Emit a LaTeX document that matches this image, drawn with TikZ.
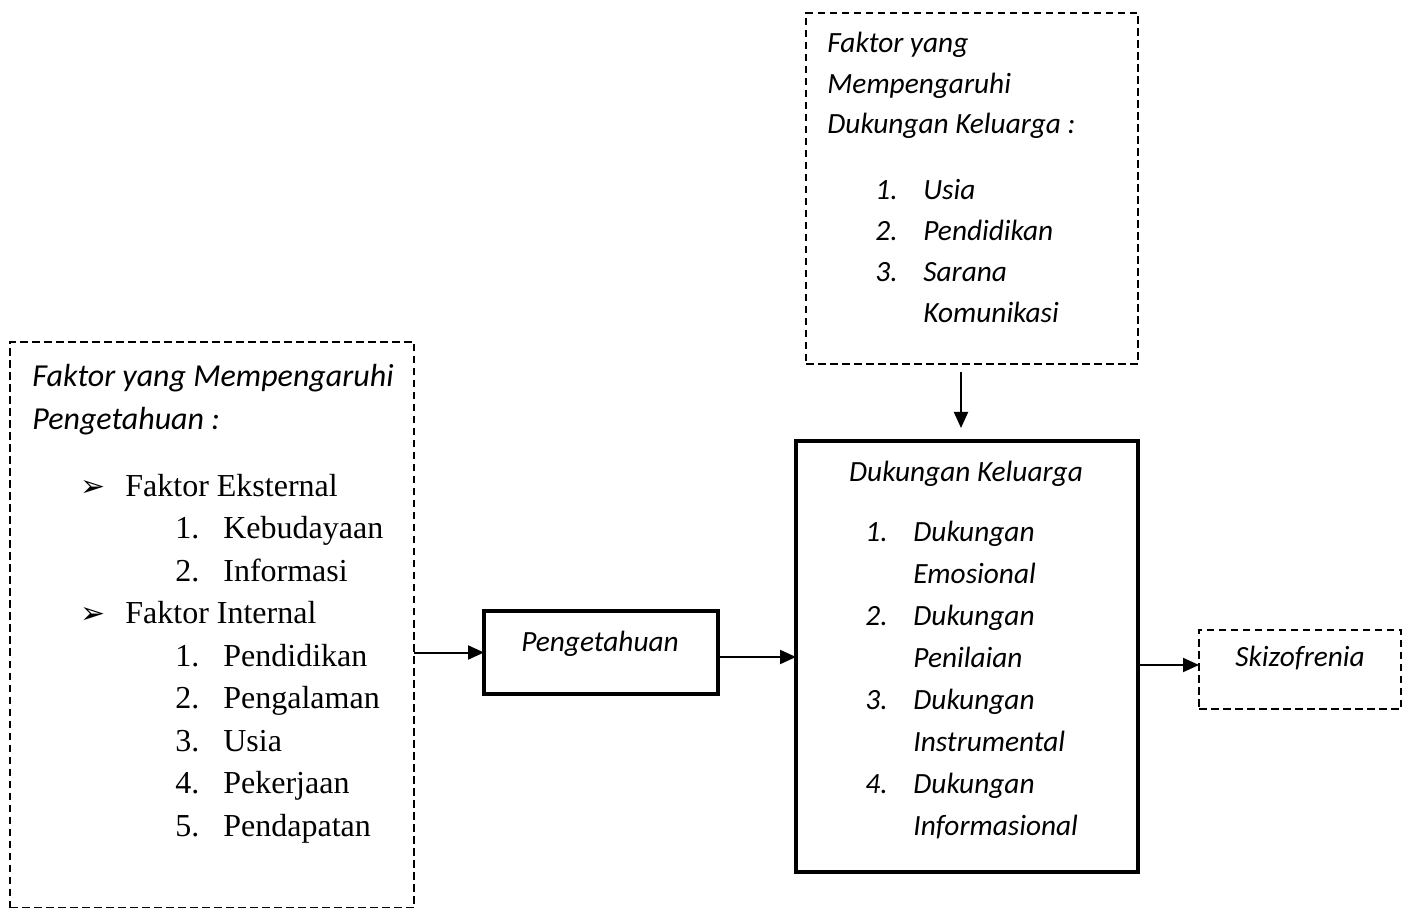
\documentclass[tikz,border=0pt]{standalone}
\usepackage{fontspec}
\setmainfont{Liberation Serif}
\newfontfamily\califont{Carlito}
\newfontfamily\symfont{DejaVu Sans}
\usetikzlibrary{arrows.meta, positioning}

\newcommand{\numline}[2]{\makebox[24pt][l]{#1}#2}
\newcommand{\arrowitem}[1]{\makebox[22.5pt][l]{\symfont\fontsize{15pt}{15pt}\selectfont ➢}#1}

\begin{document}
\begin{tikzpicture}[x=0.5pt, y=-0.5pt,
    framebox/.style = {draw, line width=1.6pt, anchor=north west,
      inner sep=0pt, outer sep=0pt},
    dashbox/.style  = {draw, line width=0.9pt, dash pattern=on 3.75pt off 2.25pt,
      anchor=north west, inner sep=0pt, outer sep=0pt},
    edge/.style     = {-{Triangle[length=8pt,width=7pt]}, line width=1pt},
    caltext/.style  = {font=\califont\itshape\fontsize{14.67pt}{20.5pt}\selectfont,
      align=left, anchor=base west, inner sep=0pt},
    romtext/.style  = {font=\fontsize{16pt}{21.25pt}\selectfont,
      align=left, anchor=base west, inner sep=0pt}
  ]
    \useasboundingbox (0,0) rectangle (1408,908);

    % boxes
    \node[dashbox, minimum width=202pt, minimum height=282.75pt] (pengbox) at (10,342) {};
    \node[dashbox, minimum width=166pt, minimum height=175.5pt] (dkbox) at (806,13) {};
    \node[framebox, minimum width=117pt, minimum height=41.5pt] (peng) at (484,611) {};
    \node[framebox, minimum width=171pt, minimum height=215.5pt] (dukungan) at (796,441) {};
    \node[dashbox, minimum width=101pt, minimum height=39.5pt] (skizo) at (1199,630) {};

    % texts (base = last line)
    \node[caltext, font=\califont\itshape\fontsize{16pt}{21.5pt}\selectfont]
      (penghead) at (32,430) {Faktor yang Mempengaruhi\\Pengetahuan :};
    \node[romtext] (penglist) at (80,836) {
      \arrowitem{Faktor Eksternal}\\
      \hspace*{47.5pt}\numline{1.}{Kebudayaan}\\
      \hspace*{47.5pt}\numline{2.}{Informasi}\\
      \arrowitem{Faktor Internal}\\
      \hspace*{47.5pt}\numline{1.}{Pendidikan}\\
      \hspace*{47.5pt}\numline{2.}{Pengalaman}\\
      \hspace*{47.5pt}\numline{3.}{Usia}\\
      \hspace*{47.5pt}\numline{4.}{Pekerjaan}\\
      \hspace*{47.5pt}\numline{5.}{Pendapatan}};

    \node[caltext, font=\califont\itshape\fontsize{14.67pt}{20.25pt}\selectfont]
      (dkhead) at (827,134) {Faktor yang\\Mempengaruhi\\Dukungan Keluarga :};
    \node[caltext] (dklist) at (875,323) {
      \numline{1.}{Usia}\\
      \numline{2.}{Pendidikan}\\
      \numline{3.}{Sarana}\\
      \numline{}{Komunikasi}};

    \node[caltext, anchor=base] (penglabel) at (600,651) {Pengetahuan};

    \node[caltext, anchor=base] (dukhead) at (966,482) {Dukungan Keluarga};
    \node[caltext, font=\califont\itshape\fontsize{14.67pt}{20.95pt}\selectfont]
      (duklist) at (865,835) {
      \numline{1.}{Dukungan}\\
      \numline{}{Emosional}\\
      \numline{2.}{Dukungan}\\
      \numline{}{Penilaian}\\
      \numline{3.}{Dukungan}\\
      \numline{}{Instrumental}\\
      \numline{4.}{Dukungan}\\
      \numline{}{Informasional}};

    \node[caltext, anchor=base] (skizolabel) at (1300,667) {Skizofrenia};

    % connectors
    \draw[edge] (pengbox.east |- peng.west) -- (peng.west);
    \draw[edge] ([yshift=-2.25pt]peng.east) -- ([yshift=-2.25pt]peng.east -| dukungan.west);
    \draw[edge] ([yshift=2.25pt]skizo.west -| dukungan.east) -- ([yshift=2.25pt]skizo.west);
    \draw[edge, shorten <=4pt, shorten >=6.5pt]
      ([xshift=-5.5pt]dkbox.south) -- ([xshift=-5.5pt]dkbox.south |- dukungan.north);

  \end{tikzpicture}
\end{document}
